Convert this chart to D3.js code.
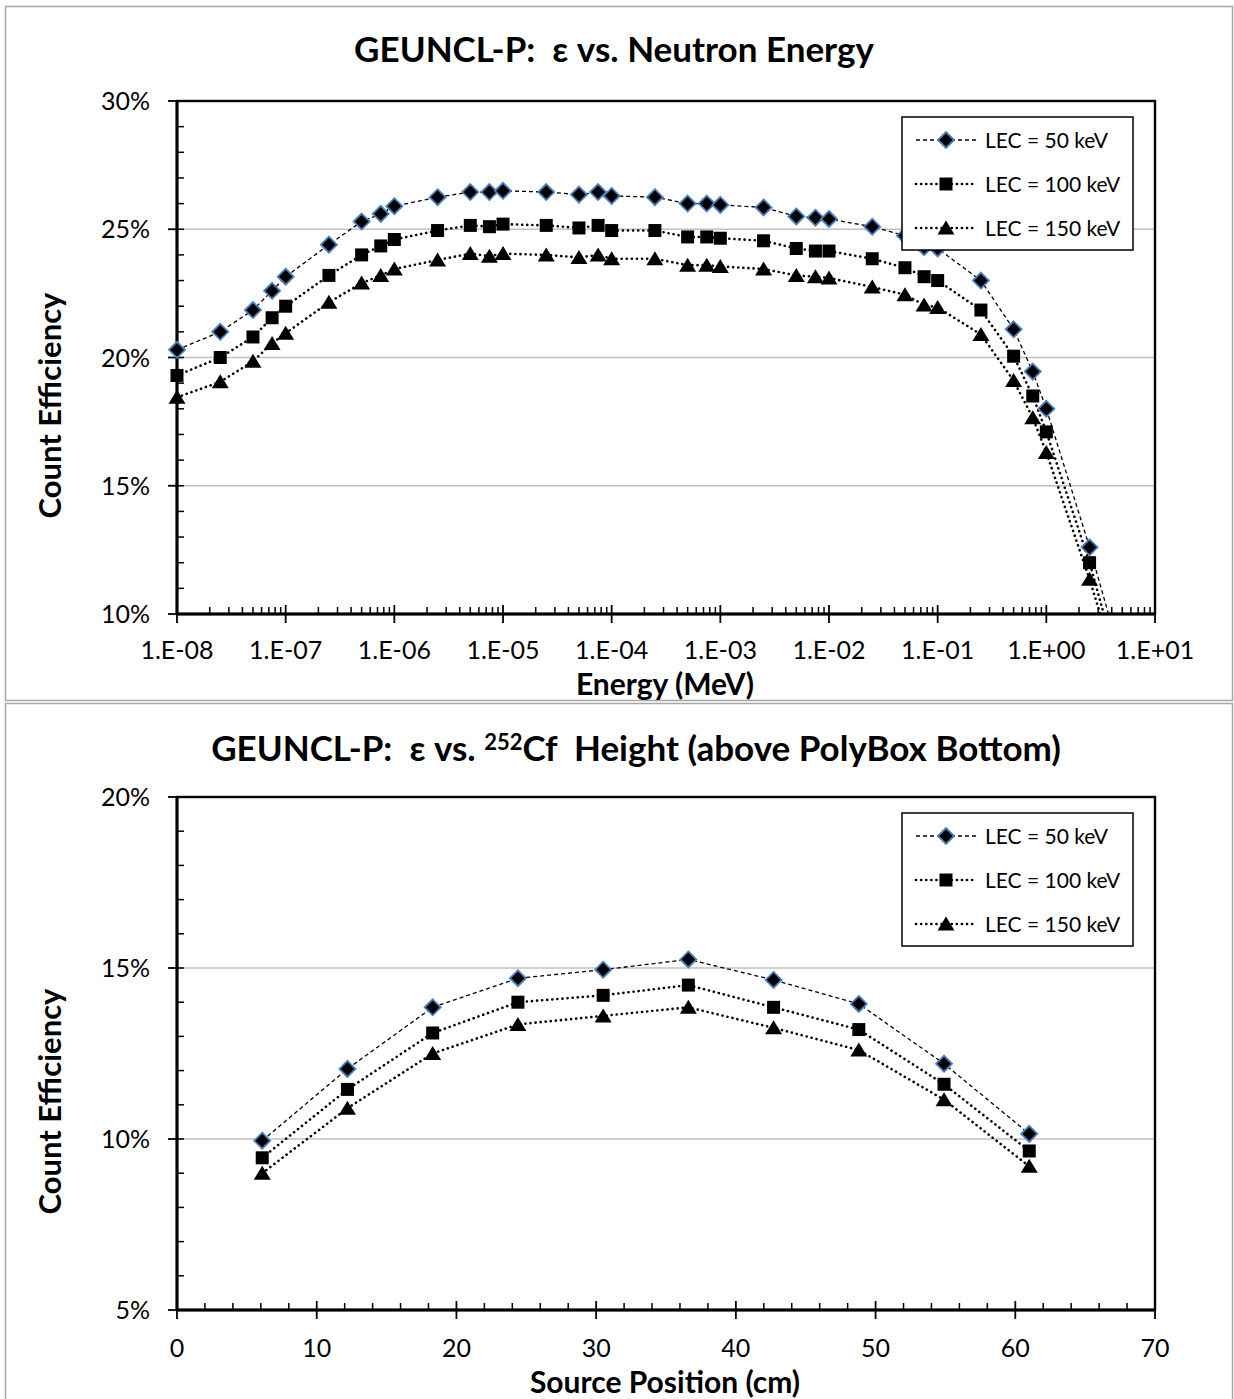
<!DOCTYPE html>
<html><head><meta charset="utf-8">
<script src="https://cdn.jsdelivr.net/npm/d3@7"></script>
<style>body{margin:0;background:#fff}svg{display:block}text{font-family:Lato,"Open Sans",sans-serif;fill:#000;white-space:pre}</style>
</head><body>
<script>
// ---------- DATA ----------
const energies = [1e-8,2.5e-8,5e-8,7.5e-8,1e-7,2.5e-7,5e-7,7.5e-7,1e-6,2.5e-6,5e-6,7.5e-6,1e-5,2.5e-5,5e-5,7.5e-5,1e-4,2.5e-4,5e-4,7.5e-4,1e-3,2.5e-3,5e-3,7.5e-3,1e-2,2.5e-2,5e-2,7.5e-2,1e-1,2.5e-1,5e-1,7.5e-1,1,2.5,5];
const effE50  = [20.3,21.0,21.85,22.6,23.15,24.4,25.3,25.6,25.9,26.25,26.45,26.45,26.5,26.45,26.35,26.45,26.3,26.25,26.0,26.0,25.95,25.85,25.5,25.45,25.4,25.1,24.75,24.3,24.25,23.0,21.1,19.45,18.0,12.6,8.1];
const effE100 = [19.3,20.0,20.8,21.55,22.0,23.2,24.0,24.35,24.6,24.95,25.15,25.1,25.2,25.15,25.05,25.15,24.95,24.95,24.7,24.7,24.65,24.55,24.25,24.15,24.15,23.85,23.5,23.15,23.0,21.85,20.05,18.5,17.1,12.0,7.4];
const effE150 = [18.45,19.05,19.85,20.55,20.95,22.15,22.9,23.2,23.45,23.8,24.05,23.95,24.05,24.0,23.9,24.0,23.85,23.85,23.6,23.6,23.55,23.45,23.2,23.15,23.1,22.75,22.45,22.05,21.95,20.9,19.1,17.65,16.3,11.35,7.2];
const energyTicks = [1e-8,1e-7,1e-6,1e-5,1e-4,1e-3,1e-2,1e-1,1,10];
const energyTickLabels = ["1.E-08","1.E-07","1.E-06","1.E-05","1.E-04","1.E-03","1.E-02","1.E-01","1.E+00","1.E+01"];
const effTicksTop = [10,15,20,25,30];

const positions = [6.1,12.2,18.3,24.4,30.5,36.6,42.7,48.8,54.9,61.0];
const effP50  = [9.95,12.05,13.85,14.7,14.95,15.25,14.65,13.95,12.2,10.15];
const effP100 = [9.45,11.45,13.1,14.0,14.2,14.5,13.85,13.2,11.6,9.65];
const effP150 = [9.0,10.9,12.5,13.35,13.6,13.85,13.25,12.6,11.15,9.2];
const positionTicks = [0,10,20,30,40,50,60,70];
const positionTickLabels = ["0","10","20","30","40","50","60","70"];
const effTicksBottom = [5,10,15,20];

const seriesNames = ["LEC = 50 keV","LEC = 100 keV","LEC = 150 keV"];

// ---------- DRAW ----------
const W = 1234, H = 1399;
const svg = d3.select("body").append("svg").attr("width", W).attr("height", H);

svg.append("rect").attr("x",5.5).attr("y",6.5).attr("width",1227).attr("height",694).attr("fill","none").attr("stroke","#a6a6a6").attr("stroke-width",1.5);
svg.append("rect").attr("x",5.5).attr("y",703.5).attr("width",1227).attr("height",700).attr("fill","none").attr("stroke","#a6a6a6").attr("stroke-width",1.5);

const styles = [
  {shape:"diamond", dash:"4,3", width:1.3, cap:"butt"},
  {shape:"square", dash:"0.1,5", width:2.6, cap:"round"},
  {shape:"triangle", dash:"0.1,5", width:2.6, cap:"round"}
];

function markerPath(shape){
  if(shape==="diamond") return "M0,-8L8,0L0,8L-8,0Z";
  if(shape==="square") return "M-6.5,-6.5H6.5V6.5H-6.5Z";
  return "M0,-7.5L8.5,6.5L-8.5,6.5Z";
}
function drawMarker(g, shape, x, y){
  const p = g.append("path").attr("transform",`translate(${x},${y})`).attr("d",markerPath(shape)).attr("fill","#000");
  if(shape==="diamond") p.attr("stroke","#4a7ebb").attr("stroke-width",1.8);
}

function chart(opts){
  const {left,right,top,bottom,x,y,xs,clipId} = opts;
  const g = svg.append("g");
  g.selectAll(".grid").data(opts.yTicks).join("line")
    .attr("x1",left).attr("x2",right).attr("y1",d=>y(d)).attr("y2",d=>y(d))
    .attr("stroke","#c0c0c0").attr("stroke-width",1.6);
  svg.append("clipPath").attr("id",clipId).append("rect")
    .attr("x",left).attr("y",top).attr("width",right-left).attr("height",bottom-top);
  const ax = g.append("g").attr("stroke","#000");
  ax.selectAll(".my").data(opts.yMinor).join("line")
    .attr("x1",left).attr("x2",left+7).attr("y1",d=>y(d)).attr("y2",d=>y(d)).attr("stroke-width",1.5);
  ax.selectAll(".My").data(opts.yTicks).join("line")
    .attr("x1",left-9).attr("x2",left).attr("y1",d=>y(d)).attr("y2",d=>y(d)).attr("stroke-width",1.8);
  ax.selectAll(".mx").data(opts.xMinor).join("line")
    .attr("x1",d=>x(d)).attr("x2",d=>x(d)).attr("y1",bottom-7).attr("y2",bottom).attr("stroke-width",1.5);
  ax.selectAll(".Mx").data(opts.xTicks).join("line")
    .attr("x1",d=>x(d)).attr("x2",d=>x(d)).attr("y1",bottom-9).attr("y2",bottom+9).attr("stroke-width",1.8);
  g.append("rect").attr("x",left).attr("y",top).attr("width",right-left).attr("height",bottom-top)
    .attr("fill","none").attr("stroke","#000").attr("stroke-width",2.4);
  g.append("line").attr("x1",left).attr("x2",left).attr("y1",top).attr("y2",bottom).attr("stroke","#000").attr("stroke-width",3);
  g.append("line").attr("x1",left).attr("x2",right).attr("y1",bottom).attr("y2",bottom).attr("stroke","#000").attr("stroke-width",3);
  g.selectAll(".yl").data(opts.yTicks).join("text")
    .attr("x",left-27).attr("y",d=>y(d)).attr("dy","0.36em").attr("text-anchor","end")
    .style("font-size","25px").text(d=>d+"%");
  g.selectAll(".xl").data(opts.xTicks).join("text")
    .attr("x",d=>x(d)).attr("y",opts.xLabelY).attr("text-anchor","middle")
    .style("font-size","25px").text((d,i)=>opts.xLabels[i]);
  g.append("text").attr("transform",`translate(61,${(top+bottom)/2+48}) rotate(-90)`).attr("text-anchor","middle")
    .style("font-size","31px").style("font-weight","bold").text("Count Efficiency");
  g.append("text").attr("x",opts.xTitleX).attr("y",opts.xTitleY).attr("text-anchor","middle")
    .style("font-size","30px").style("font-weight","bold").text(opts.xTitle);
  const data = opts.series;
  data.forEach((vals,si)=>{
    const st = styles[si];
    const line = d3.line().x((d,i)=>x(xs[i])).y(d=>y(d));
    g.append("path").attr("clip-path",`url(#${clipId})`).datum(vals).attr("d",line)
      .attr("fill","none").attr("stroke","#000").attr("stroke-width",st.width)
      .attr("stroke-dasharray",st.dash).attr("stroke-linecap",st.cap);
  });
  data.forEach((vals,si)=>{
    const st = styles[si];
    const mg = g.append("g");
    vals.forEach((v,i)=>{ if(v>=opts.yMin) drawMarker(mg, st.shape, x(xs[i]), y(v)); });
  });
  const L = opts.legend;
  g.append("rect").attr("x",L.x).attr("y",L.y).attr("width",L.w).attr("height",L.h)
    .attr("fill","#fff").attr("stroke","#000").attr("stroke-width",1.5);
  seriesNames.forEach((nm,si)=>{
    const st = styles[si];
    const cy = L.y + 23 + si*44;
    g.append("line").attr("x1",L.x+14).attr("x2",L.x+74).attr("y1",cy).attr("y2",cy)
      .attr("stroke","#000").attr("stroke-width",st.width).attr("stroke-dasharray",st.dash).attr("stroke-linecap",st.cap);
    drawMarker(g, st.shape, L.x+44, cy);
    g.append("text").attr("x",L.x+83).attr("y",cy).attr("dy","0.36em").style("font-size","21px").text(nm);
  });
}

// ---- Top chart ----
{
  const left=177,right=1155,top=101,bottom=614;
  const x = d3.scaleLog().domain([1e-8,10]).range([left,right]);
  const y = d3.scaleLinear().domain([10,30]).range([bottom,top]);
  const xMinor=[]; for(let e=-8;e<1;e++) for(let k=2;k<10;k++) xMinor.push(k*Math.pow(10,e));
  chart({left,right,top,bottom,x,y,xs:energies,clipId:"c1",
    yTicks:effTicksTop, yMinor:d3.range(11,30), yMin:10,
    xTicks:energyTicks, xLabels:energyTickLabels, xMinor, xLabelY:659,
    xTitle:"Energy (MeV)", xTitleX:665, xTitleY:695,
    series:[effE50,effE100,effE150],
    legend:{x:902,y:117,w:231,h:133}});
  svg.append("text").attr("x",614).attr("y",62).attr("text-anchor","middle")
    .style("font-size","35px").style("font-weight","bold")
    .text("GEUNCL-P:  ε vs. Neutron Energy");
}

// ---- Bottom chart ----
{
  const left=177,right=1155,top=797,bottom=1310;
  const x = d3.scaleLinear().domain([0,70]).range([left,right]);
  const y = d3.scaleLinear().domain([5,20]).range([bottom,top]);
  chart({left,right,top,bottom,x,y,xs:positions,clipId:"c2",
    yTicks:effTicksBottom, yMinor:d3.range(6,20), yMin:5,
    xTicks:positionTicks, xLabels:positionTickLabels, xMinor:d3.range(2,70,2).filter(d=>d%10!==0), xLabelY:1357,
    xTitle:"Source Position (cm)", xTitleX:665, xTitleY:1393,
    series:[effP50,effP100,effP150],
    legend:{x:902,y:813,w:231,h:133}});
  const t = svg.append("text").attr("x",636).attr("y",761).attr("text-anchor","middle")
    .style("font-size","35px").style("font-weight","bold");
  t.append("tspan").text("GEUNCL-P:  ε vs. ");
  t.append("tspan").attr("dy",-11).style("font-size","22px").text("252");
  t.append("tspan").attr("dy",11).text("Cf  Height (above PolyBox Bottom)");
}
</script>
</body></html>
